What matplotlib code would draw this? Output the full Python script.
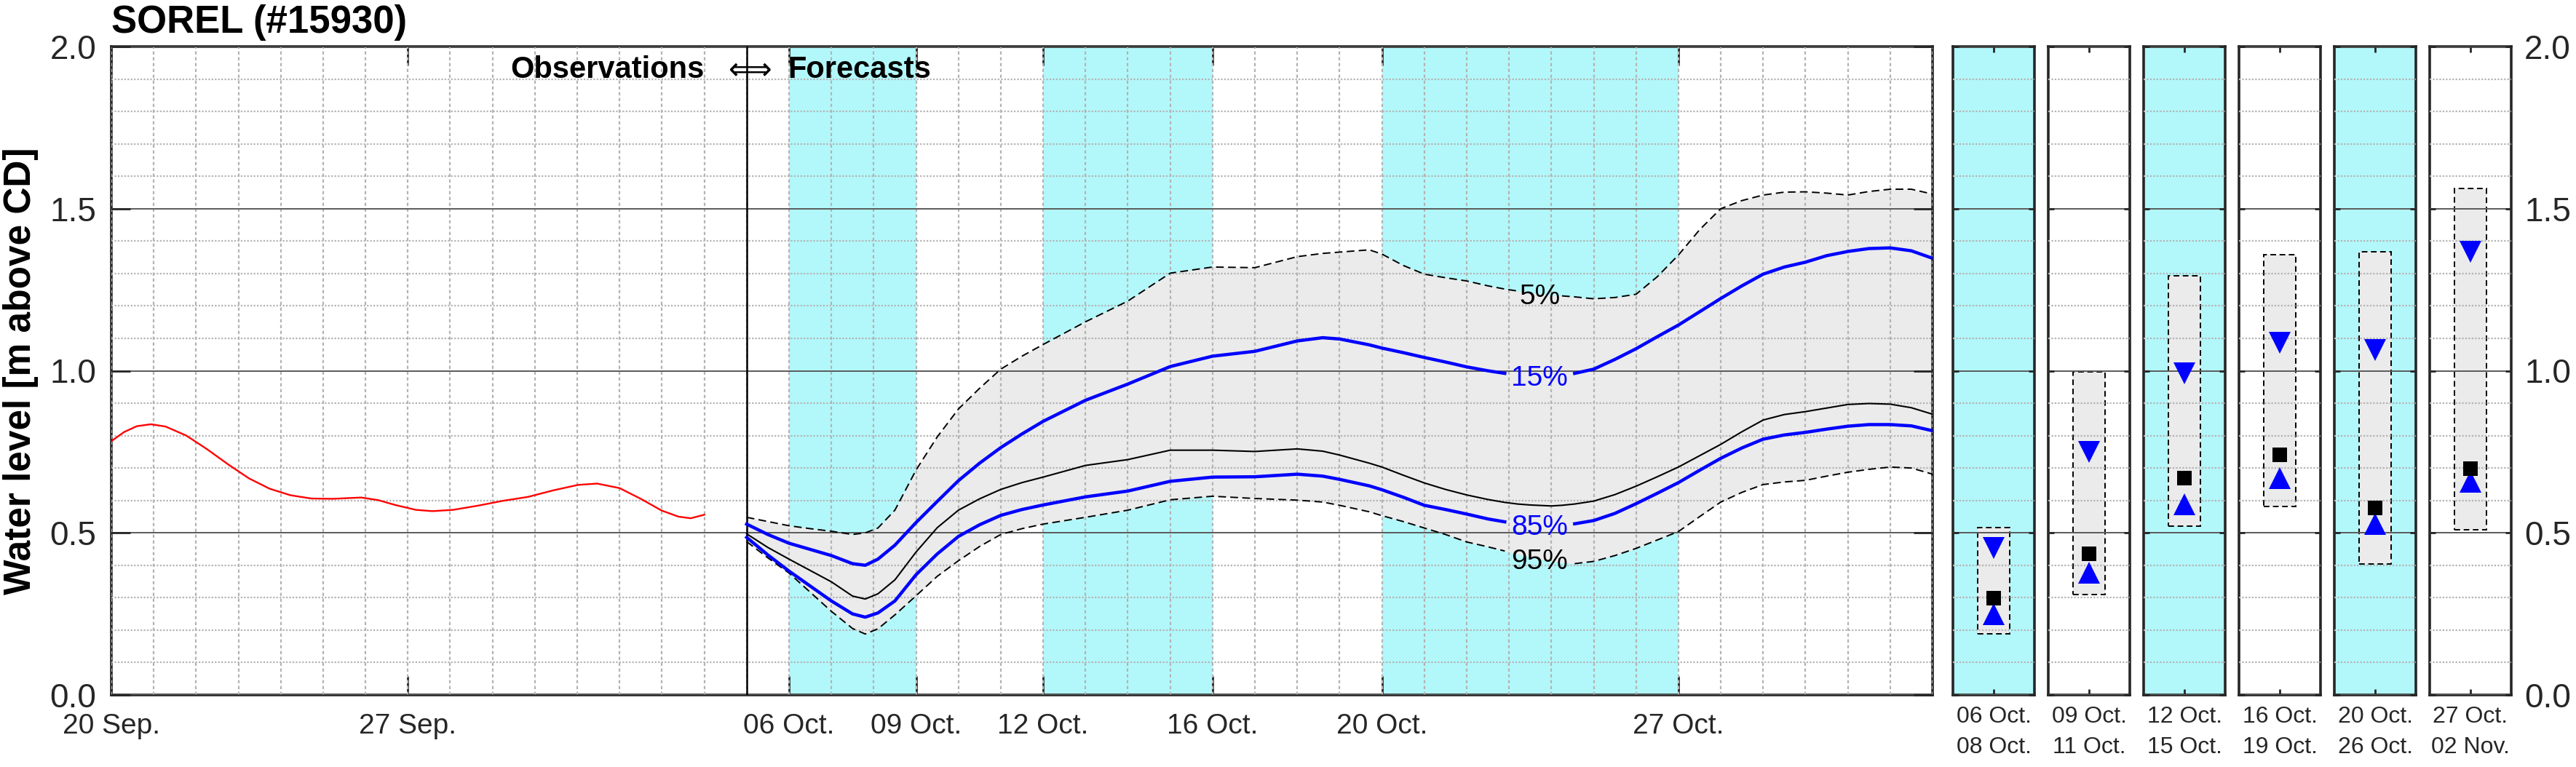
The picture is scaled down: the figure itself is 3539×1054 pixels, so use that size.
import matplotlib
matplotlib.use('Agg')
import matplotlib.pyplot as plt
import matplotlib.dates as mdates
import matplotlib.ticker as mticker
import numpy as np
import pandas as pd

plt.rcParams['font.family'] = ['Liberation Sans', 'DejaVu Sans']

t0 = pd.Timestamp('2023-09-20')

# observed water level, days after 20 Sep.
obs_day = [0, 0.3, 0.6, 0.93, 1.28, 1.77, 2.26, 2.76, 3.25, 3.74, 4.23, 4.72, 5.22, 5.9, 6.3,
           6.7, 7.19, 7.58, 8.07, 8.66, 9.25, 9.84, 10.43, 11.02, 11.47, 12.0, 12.5, 12.99,
           13.39, 13.68, 14.0]
obs_level = [0.783, 0.811, 0.829, 0.835, 0.828, 0.800, 0.758, 0.711, 0.668, 0.636, 0.616,
             0.606, 0.605, 0.609, 0.601, 0.586, 0.571, 0.567, 0.571, 0.584, 0.599, 0.611,
             0.631, 0.648, 0.652, 0.638, 0.605, 0.569, 0.550, 0.545, 0.556]

# forecast percentiles, days after 20 Sep.
fc_day = [15, 15.5, 16, 16.5, 17, 17.5, 17.8, 18.1, 18.5, 19,
          19.5, 20, 20.5, 21, 21.5, 22, 23, 24, 25, 26,
          27, 28, 28.6, 29, 29.7, 30, 30.5, 31, 31.5, 32,
          32.5, 32.9, 33.2, 33.5, 34, 34.25, 34.55, 35, 35.5, 36,
          36.5, 37, 37.5, 38, 38.5, 39, 39.5, 40, 40.5, 41,
          41.5, 42, 42.5, 43]
p5 = [0.548, 0.535, 0.522, 0.513, 0.505, 0.495, 0.500, 0.515, 0.570, 0.694,
      0.796, 0.882, 0.946, 1.005, 1.045, 1.081, 1.151, 1.215, 1.301, 1.320,
      1.318, 1.352, 1.362, 1.366, 1.373, 1.360, 1.325, 1.298, 1.287, 1.277,
      1.262, 1.252, 1.246, 1.240, 1.233, 1.231, 1.228, 1.222, 1.226, 1.236,
      1.290, 1.357, 1.435, 1.500, 1.525, 1.542, 1.551, 1.552, 1.548, 1.542,
      1.553, 1.560, 1.560, 1.545]
p15 = [0.527, 0.495, 0.468, 0.449, 0.430, 0.405, 0.400, 0.419, 0.462, 0.532,
       0.597, 0.661, 0.715, 0.763, 0.805, 0.844, 0.909, 0.959, 1.013, 1.045,
       1.060, 1.092, 1.102, 1.098, 1.080, 1.070, 1.056, 1.041, 1.027, 1.012,
       1.000, 0.992, 0.988, 0.985, 0.985, 0.987, 0.992, 1.005, 1.035, 1.068,
       1.105, 1.141, 1.182, 1.223, 1.262, 1.298, 1.320, 1.335, 1.355, 1.368,
       1.377, 1.379, 1.370, 1.347]
p50 = [0.497, 0.455, 0.419, 0.384, 0.349, 0.305, 0.296, 0.312, 0.355, 0.441,
       0.516, 0.570, 0.605, 0.634, 0.655, 0.672, 0.708, 0.726, 0.755, 0.755,
       0.751, 0.759, 0.752, 0.740, 0.715, 0.703, 0.678, 0.654, 0.634, 0.617,
       0.603, 0.594, 0.589, 0.586, 0.583, 0.585, 0.589, 0.598, 0.618, 0.644,
       0.673, 0.703, 0.738, 0.773, 0.812, 0.848, 0.865, 0.874, 0.885, 0.896,
       0.899, 0.897, 0.886, 0.866]
p85 = [0.486, 0.432, 0.382, 0.336, 0.290, 0.250, 0.240, 0.253, 0.290, 0.371,
       0.435, 0.489, 0.525, 0.554, 0.572, 0.586, 0.611, 0.629, 0.659, 0.672,
       0.673, 0.681, 0.675, 0.665, 0.645, 0.633, 0.610, 0.585, 0.572, 0.558,
       0.543, 0.534, 0.530, 0.527, 0.525, 0.526, 0.528, 0.538, 0.560, 0.590,
       0.622, 0.655, 0.693, 0.730, 0.762, 0.789, 0.802, 0.810, 0.820, 0.829,
       0.834, 0.834, 0.830, 0.815]
p95 = [0.473, 0.423, 0.376, 0.317, 0.258, 0.205, 0.188, 0.204, 0.247, 0.306,
       0.366, 0.414, 0.458, 0.495, 0.513, 0.527, 0.548, 0.570, 0.602, 0.613,
       0.606, 0.601, 0.595, 0.585, 0.565, 0.553, 0.535, 0.515, 0.495, 0.472,
       0.457, 0.444, 0.434, 0.425, 0.412, 0.408, 0.405, 0.412, 0.430, 0.452,
       0.478, 0.504, 0.550, 0.595, 0.625, 0.649, 0.657, 0.662, 0.675, 0.687,
       0.696, 0.703, 0.700, 0.681]

label_day = 33.72
fc_start = pd.Timestamp('2023-10-05')
x_end = pd.Timestamp('2023-11-02')
shade_start = ['2023-10-06', '2023-10-12', '2023-10-20']
shade_end = ['2023-10-09', '2023-10-16', '2023-10-27']
major_dates = ['2023-09-20', '2023-09-27', '2023-10-06', '2023-10-09',
               '2023-10-12', '2023-10-16', '2023-10-20', '2023-10-27']

# summary per forecast window
win_labels = ['06 Oct.\n08 Oct.', '09 Oct.\n11 Oct.', '12 Oct.\n15 Oct.',
              '16 Oct.\n19 Oct.', '20 Oct.\n26 Oct.', '27 Oct.\n02 Nov.']
win_shaded = [True, False, True, False, True, False]
win_p5 = [0.516, 0.996, 1.294, 1.358, 1.366, 1.562]
win_p95 = [0.189, 0.309, 0.521, 0.581, 0.405, 0.509]
win_p15 = [0.454, 0.750, 0.993, 1.087, 1.064, 1.366]
win_p50 = [0.299, 0.435, 0.669, 0.740, 0.578, 0.699]
win_p85 = [0.249, 0.377, 0.589, 0.669, 0.528, 0.657]

CYAN = '#b2f8fb'
FILL = '#ebebeb'
BLUE = '#0000ff'
SPINE = '#262626'

obs_t = t0 + pd.to_timedelta(obs_day, unit='D')
fc_t = t0 + pd.to_timedelta(fc_day, unit='D')


def gapped(values, half):
    v = np.array(values, dtype=float)
    v[np.abs(np.array(fc_day) - label_day) < half] = np.nan
    return v


def style_grid(ax):
    ax.yaxis.set_major_locator(mticker.MultipleLocator(0.5))
    ax.yaxis.set_minor_locator(mticker.MultipleLocator(0.1))
    ax.set_ylim(0, 2)
    ax.set_axisbelow(False)
    ax.grid(axis='y', which='major', color='#5a5a5a', lw=1.4, ls='-')
    ax.grid(axis='y', which='minor', color='#b4b4b4', lw=1.6, ls=(0, (1, 1)))
    for s in ax.spines.values():
        s.set_linewidth(2.6)
        s.set_color(SPINE)


fig = plt.figure(figsize=(35.39, 10.54), dpi=100)
W, H = 3539.0, 1054.0
ax = fig.add_axes([153 / W, 99 / H, 2502 / W, 891 / H])

style_grid(ax)
ax.set_xlim(t0, x_end)
ax.xaxis.set_major_locator(mticker.FixedLocator(mdates.date2num(pd.to_datetime(major_dates))))
ax.xaxis.set_minor_locator(mdates.DayLocator())
ax.xaxis.remove_overlapping_locs = False
ax.xaxis.set_major_formatter(mdates.DateFormatter('%d %b.'))
ax.yaxis.set_major_formatter(mticker.FormatStrFormatter('%.1f'))
ax.grid(axis='x', which='minor', color='#b4b4b4', lw=1.6, ls=(0, (2, 1.6)))
ax.tick_params(which='major', direction='in', length=19, width=2.0, color=SPINE,
               top=True, right=True)
ax.tick_params(which='minor', length=0)
ax.tick_params(axis='x', labelsize=28, pad=18, labelcolor=SPINE)
ax.tick_params(axis='y', labelsize=33, pad=15, labelcolor=SPINE)

for a, b in zip(shade_start, shade_end):
    ax.axvspan(pd.Timestamp(a), pd.Timestamp(b), color=CYAN, lw=0, zorder=0.5)
ax.fill_between(fc_t, p95, p5, color=FILL, lw=0, zorder=1)
ax.axvline(fc_start, color='k', lw=1.8, zorder=3)

ax.plot(obs_t, obs_level, color='#ff0000', lw=1.7, zorder=3)
dash = (0, (5.5, 3))
ax.plot(fc_t, gapped(p5, 0.5), color='k', lw=1.4, ls=dash, zorder=3)
ax.plot(fc_t, gapped(p95, 0.8), color='k', lw=1.4, ls=dash, zorder=3)
ax.plot(fc_t, p50, color='k', lw=1.5, zorder=3)
ax.plot(fc_t, gapped(p15, 0.8), color=BLUE, lw=3.2, zorder=3)
ax.plot(fc_t, gapped(p85, 0.8), color=BLUE, lw=3.2, zorder=3)

lab_t = t0 + pd.Timedelta(days=label_day)
for txt, series, col in [('5%', p5, 'k'), ('15%', p15, BLUE), ('85%', p85, BLUE), ('95%', p95, 'k')]:
    ax.text(lab_t, np.interp(label_day, fc_day, series), txt, color=col, fontsize=28,
            ha='center', va='center_baseline', zorder=4)

ax.text(fc_start, 1.903, r'$\Longleftrightarrow$', fontsize=30, ha='center', va='baseline', zorder=4)
ax.annotate('Observations', xy=(fc_start, 1.903), xytext=(-42, 0), textcoords='offset points',
            fontsize=30, fontweight='bold', ha='right', va='baseline', zorder=4)
ax.annotate('Forecasts', xy=(fc_start, 1.903), xytext=(41, 0), textcoords='offset points',
            fontsize=30, fontweight='bold', ha='left', va='baseline', zorder=4)

ax.set_title('SOREL (#15930)', loc='left', fontsize=38, fontweight='bold', pad=14)
ax.set_ylabel('Water level [m above CD]', fontsize=37, fontweight='bold')
ax.yaxis.set_label_coords(-0.040, 0.5)

# summary panels
for i in range(len(win_labels)):
    pa = fig.add_axes([(2683 + 131 * i) / W, 99 / H, 112 / W, 891 / H])
    style_grid(pa)
    pa.set_facecolor(CYAN if win_shaded[i] else 'white')
    pa.set_xlim(-0.5, 0.5)
    pa.bar([0], [win_p5[i] - win_p95[i]], bottom=[win_p95[i]], width=0.4, color=FILL,
           edgecolor='k', lw=1.4, ls=(0, (4, 2.5)), zorder=1)
    pa.plot([0], [win_p15[i]], 'v', color=BLUE, ms=21, mew=0, zorder=4)
    pa.plot([0], [win_p85[i]], '^', color=BLUE, ms=21, mew=0, zorder=4)
    pa.plot([0], [win_p50[i]], 's', color='k', ms=15, mew=0, zorder=4)
    pa.set_xticks([0])
    pa.set_xticklabels([win_labels[i]], fontsize=23, linespacing=1.5, color=SPINE)
    pa.tick_params(which='major', direction='in', length=6, width=2.0, color=SPINE,
                   top=True, right=True, left=True, labelleft=False)
    pa.tick_params(which='minor', length=0)
    pa.tick_params(axis='x', pad=11)
    if i == len(win_labels) - 1:
        pa.yaxis.set_major_formatter(mticker.FormatStrFormatter('%.1f'))
        pa.tick_params(axis='y', labelright=True, labelsize=33, pad=13, labelcolor=SPINE)
    else:
        pa.tick_params(axis='y', labelright=False)

fig.savefig('out.png', dpi=100)
